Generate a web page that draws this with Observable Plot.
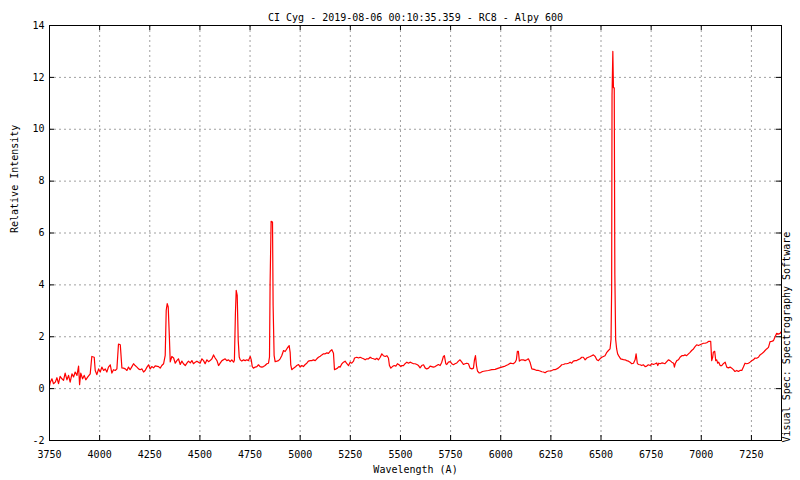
<!DOCTYPE html>
<html>
<head>
<meta charset="utf-8">
<script src="https://cdn.jsdelivr.net/npm/d3@7"></script>
<script src="https://cdn.jsdelivr.net/npm/@observablehq/plot@0.6"></script>
<style>
  body { margin: 0; background: white; }
</style>
</head>
<body>
<div id="chart"></div>
<script>

// Spectre (longueur d'onde en A, intensite relative)
const wavelength = [
  3750, 3754, 3762, 3770, 3779, 3787, 3795, 3803, 3812, 3820,
  3828, 3837, 3845, 3853, 3862, 3870, 3878, 3887, 3895, 3900,
  3906, 3915, 3923, 3931, 3941, 3953, 3961, 3973, 3978, 3986,
  3995, 4003, 4011, 4020, 4028, 4036, 4044, 4053, 4061, 4069,
  4078, 4086, 4094, 4103, 4111, 4119, 4128, 4136, 4144, 4152,
  4161, 4169, 4177, 4186, 4194, 4202, 4211, 4219, 4227, 4236,
  4244, 4252, 4260, 4269, 4277, 4294, 4302, 4310, 4319, 4327,
  4332, 4337, 4342, 4348, 4352, 4360, 4369, 4377, 4385, 4393,
  4402, 4410, 4418, 4427, 4435, 4443, 4452, 4460, 4468, 4477,
  4485, 4493, 4501, 4510, 4518, 4526, 4535, 4543, 4551, 4560,
  4568, 4576, 4585, 4593, 4601, 4610, 4626, 4634, 4643, 4651,
  4659, 4668, 4672, 4677, 4681, 4686, 4691, 4696, 4701, 4709,
  4717, 4726, 4734, 4742, 4751, 4756, 4761, 4767, 4776, 4784,
  4792, 4800, 4809, 4817, 4825, 4834, 4842, 4847, 4850, 4855,
  4862, 4865, 4870, 4875, 4884, 4892, 4900, 4908, 4917, 4925,
  4933, 4938, 4945, 4950, 4953, 4958, 4967, 4975, 4983, 4992,
  5000, 5008, 5016, 5025, 5033, 5041, 5050, 5058, 5066, 5075,
  5083, 5091, 5100, 5108, 5116, 5125, 5133, 5141, 5149, 5158,
  5166, 5171, 5179, 5186, 5193, 5199, 5208, 5216, 5224, 5233,
  5241, 5249, 5257, 5266, 5271, 5282, 5291, 5299, 5307, 5316,
  5324, 5332, 5341, 5349, 5357, 5366, 5374, 5382, 5390, 5399,
  5407, 5415, 5424, 5432, 5440, 5445, 5452, 5460, 5469, 5477,
  5485, 5493, 5502, 5507, 5515, 5523, 5532, 5540, 5548, 5557,
  5565, 5573, 5582, 5590, 5598, 5606, 5615, 5623, 5631, 5640,
  5648, 5656, 5664, 5673, 5681, 5689, 5698, 5706, 5714, 5719,
  5726, 5731, 5739, 5748, 5756, 5764, 5772, 5781, 5789, 5797,
  5806, 5814, 5822, 5831, 5839, 5847, 5856, 5864, 5869, 5874,
  5879, 5884, 5892, 5900, 5909, 5922, 5939, 5955, 5972, 5989,
  6005, 6022, 6038, 6047, 6063, 6072, 6078, 6083, 6088, 6093,
  6102, 6113, 6122, 6130, 6138, 6146, 6155, 6171, 6180, 6188,
  6196, 6205, 6213, 6221, 6230, 6238, 6246, 6254, 6263, 6271,
  6279, 6288, 6296, 6304, 6313, 6321, 6329, 6338, 6346, 6354,
  6362, 6371, 6379, 6387, 6396, 6404, 6412, 6421, 6429, 6437,
  6446, 6454, 6462, 6471, 6479, 6487, 6495, 6504, 6512, 6520,
  6529, 6537, 6545, 6550, 6553, 6555, 6559, 6562, 6566, 6569,
  6573, 6578, 6583, 6590, 6598, 6612, 6620, 6628, 6637, 6645,
  6653, 6662, 6670, 6675, 6681, 6686, 6695, 6703, 6711, 6720,
  6728, 6736, 6745, 6753, 6761, 6770, 6778, 6783, 6788, 6795,
  6803, 6811, 6819, 6828, 6836, 6844, 6853, 6862, 6866, 6871,
  6878, 6886, 6894, 6903, 6911, 6919, 6927, 6936, 6944, 6952,
  6961, 6969, 6977, 6986, 6994, 7002, 7011, 7019, 7027, 7036,
  7047, 7052, 7057, 7060, 7067, 7072, 7077, 7082, 7087, 7094,
  7102, 7110, 7119, 7127, 7135, 7144, 7152, 7160, 7168, 7177,
  7185, 7193, 7202, 7210, 7218, 7227, 7235, 7243, 7252, 7260,
  7268, 7276, 7285, 7293, 7301, 7310, 7318, 7326, 7335, 7343,
  7351, 7360, 7368, 7376, 7384, 7393, 7398, 7400
]

const intensity = [
  0.10, 0.25, 0.38, 0.19, 0.25, 0.42, 0.19, 0.47, 0.38, 0.32,
  0.60, 0.34, 0.51, 0.25, 0.57, 0.45, 0.64, 0.51, 0.87, 0.15,
  0.60, 0.38, 0.51, 0.34, 0.45, 0.57, 1.24, 1.21, 0.70, 0.54,
  0.76, 0.64, 0.83, 0.70, 0.76, 0.64, 0.83, 0.92, 0.60, 0.73,
  0.70, 0.76, 1.72, 1.69, 0.80, 0.79, 0.76, 0.70, 0.83, 0.73,
  0.85, 0.96, 0.89, 0.83, 0.76, 0.73, 0.76, 0.64, 0.70, 0.83,
  0.92, 0.76, 0.85, 0.80, 0.88, 0.85, 0.79, 0.89, 0.96, 1.28,
  3.02, 3.28, 3.15, 1.93, 1.03, 1.24, 1.18, 0.98, 1.08, 1.15,
  0.93, 1.06, 0.96, 0.89, 0.98, 1.06, 0.99, 1.08, 0.96, 1.02,
  1.06, 1.02, 0.98, 1.15, 1.08, 0.96, 1.11, 1.04, 1.08, 1.15,
  1.30, 1.18, 1.08, 0.89, 0.98, 1.08, 1.15, 1.08, 1.11, 1.04,
  1.11, 1.02, 1.09, 2.89, 3.79, 3.60, 1.86, 1.22, 1.11, 1.06,
  1.11, 1.08, 1.11, 1.08, 1.24, 1.11, 0.85, 0.79, 0.83, 0.85,
  0.92, 0.85, 0.83, 0.85, 0.89, 0.96, 0.98, 1.22, 4.05, 6.45,
  6.42, 3.21, 1.28, 1.04, 1.06, 1.08, 1.15, 1.27, 1.47, 1.43,
  1.53, 1.59, 1.66, 1.40, 0.92, 0.73, 0.79, 0.83, 0.89, 0.93,
  0.83, 0.89, 0.85, 0.93, 0.98, 1.06, 1.08, 1.08, 1.11, 1.08,
  1.15, 1.21, 1.25, 1.30, 1.34, 1.34, 1.38, 1.36, 1.44, 1.50,
  1.36, 0.73, 0.76, 0.79, 0.85, 0.83, 0.96, 1.02, 1.06, 0.96,
  0.89, 1.02, 0.98, 1.06, 1.18, 1.21, 1.18, 1.21, 1.18, 1.15,
  1.11, 1.15, 1.15, 1.21, 1.17, 1.15, 1.12, 1.17, 1.11, 1.21,
  1.34, 1.27, 1.24, 1.27, 1.18, 0.89, 0.79, 0.85, 0.89, 0.87,
  0.96, 0.92, 0.85, 0.89, 0.89, 0.96, 1.02, 0.98, 1.02, 0.99,
  0.96, 0.96, 0.93, 0.89, 0.80, 0.89, 0.92, 0.80, 0.76, 0.79,
  0.87, 0.85, 0.83, 0.85, 0.89, 0.93, 0.89, 1.02, 1.24, 1.27,
  0.96, 0.93, 1.02, 1.04, 0.96, 0.92, 0.96, 0.99, 1.06, 1.11,
  1.02, 0.93, 0.96, 0.98, 0.96, 0.79, 0.76, 0.79, 1.11, 1.27,
  0.89, 0.68, 0.61, 0.62, 0.66, 0.68, 0.70, 0.73, 0.74, 0.79,
  0.83, 0.87, 0.93, 0.98, 0.96, 1.02, 1.11, 1.44, 1.44, 1.06,
  1.11, 1.11, 1.08, 1.11, 1.15, 1.02, 0.76, 0.73, 0.70, 0.70,
  0.68, 0.65, 0.64, 0.61, 0.66, 0.68, 0.68, 0.70, 0.73, 0.73,
  0.76, 0.80, 0.85, 0.92, 0.93, 0.96, 0.96, 0.98, 1.02, 0.98,
  1.06, 1.08, 1.08, 1.12, 1.15, 1.21, 1.21, 1.11, 1.18, 1.21,
  1.24, 1.27, 1.30, 1.24, 1.11, 1.08, 1.15, 1.21, 1.24, 1.27,
  1.40, 1.47, 1.53, 1.90, 3.80, 11.3, 13.0, 11.6, 11.6, 4.40,
  1.90, 1.53, 1.34, 1.24, 1.15, 1.12, 1.11, 1.08, 1.06, 1.02,
  0.96, 0.98, 1.11, 1.34, 0.98, 0.93, 0.92, 0.89, 0.92, 0.85,
  0.87, 0.92, 0.89, 0.96, 0.93, 0.96, 0.99, 0.89, 0.98, 0.96,
  0.99, 0.98, 0.96, 1.04, 1.11, 1.08, 1.02, 0.98, 0.83, 0.98,
  1.08, 1.11, 1.21, 1.27, 1.27, 1.30, 1.27, 1.34, 1.40, 1.47,
  1.53, 1.62, 1.69, 1.66, 1.69, 1.72, 1.75, 1.75, 1.77, 1.82,
  1.82, 1.08, 1.21, 1.40, 1.44, 1.08, 1.11, 0.98, 1.02, 0.89,
  0.89, 0.96, 1.02, 0.83, 0.80, 0.83, 0.79, 0.73, 0.66, 0.70,
  0.66, 0.70, 0.70, 0.83, 0.98, 0.96, 0.98, 1.02, 1.08, 1.11,
  1.18, 1.17, 1.21, 1.30, 1.34, 1.40, 1.47, 1.53, 1.59, 1.81,
  1.82, 1.85, 2.00, 2.13, 2.10, 2.13, 2.19, 2.19
]

const xTicks = [3750, 4000, 4250, 4500, 4750, 5000, 5250, 5500, 5750, 6000, 6250, 6500, 6750, 7000, 7250]
const yTicks = [-2, 0, 2, 4, 6, 8, 10, 12, 14]

const title = "CI Cyg - 2019-08-06 00:10:35.359 - RC8 - Alpy 600"
const xLabel = "Wavelength (A)"
const yLabel = "Relative Intensity"
const software = "Visual Spec: Spectrography Software"

const spectrum = wavelength.map((w, i) => ({ w: w, v: intensity[i] }))

const W = 800, H = 480
const mL = 49, mR = 19, mT = 25, mB = 40
const frameW = W - mL - mR
const frameH = H - mT - mB
const tick = 5
const mono = "'DejaVu Sans Mono', monospace"

let chart = Plot.plot({
    width: W,
    height: H,
    marginLeft: mL,
    marginRight: mR,
    marginTop: mT,
    marginBottom: mB,
    x: {
        domain: [3750, 7400],
        ticks: xTicks,
        tickSize: 0,
        tickPadding: 10,
        tickFormat: d => String(d),
        label: null,
    },
    y: {
        domain: [-2, 14],
        ticks: yTicks,
        tickSize: 0,
        tickPadding: 5,
        tickFormat: d => String(d),
        label: null,
    },
    style: { fontFamily: mono, fontSize: "10px", background: "white", color: "black" },
    marks: [
        // grille pointillee
        Plot.ruleX(xTicks, { stroke: "#a0a0a0", strokeDasharray: "2,3" }),
        Plot.ruleY(yTicks, { stroke: "#a0a0a0", strokeDasharray: "2,3" }),

        Plot.line(spectrum, { x: "w", y: "v", stroke: "#ff0000", strokeWidth: 1.2 }),

        // graduations vers l'interieur, sur les 4 cotes
        Plot.ruleX(xTicks, { insetTop: frameH - tick, stroke: "black" }),
        Plot.ruleX(xTicks, { insetBottom: frameH - tick, stroke: "black" }),
        Plot.ruleY(yTicks, { insetRight: frameW - tick, stroke: "black" }),
        Plot.ruleY(yTicks, { insetLeft: frameW - tick, stroke: "black" }),
        Plot.frame({ stroke: "black" }),

        Plot.text([title], { text: d => d, frameAnchor: "top", dy: -12, fontFamily: mono, fontSize: 10, fill: "black" }),
        Plot.text([xLabel], { text: d => d, frameAnchor: "bottom", dy: 32, fontFamily: mono, fontSize: 10, fill: "black" }),
        Plot.text([yLabel], { text: d => d, frameAnchor: "left", dx: -35, rotate: -90, fontFamily: mono, fontSize: 10, fill: "black" }),
        Plot.text([software], {
            text: d => d, frameAnchor: "bottom-right", textAnchor: "start", dx: 8, dy: 2,
            rotate: -90, fontFamily: mono, fontSize: 10, fill: "black"
        }),
    ],
})

d3.select('#chart').append(() => chart)

</script>
</body>
</html>
